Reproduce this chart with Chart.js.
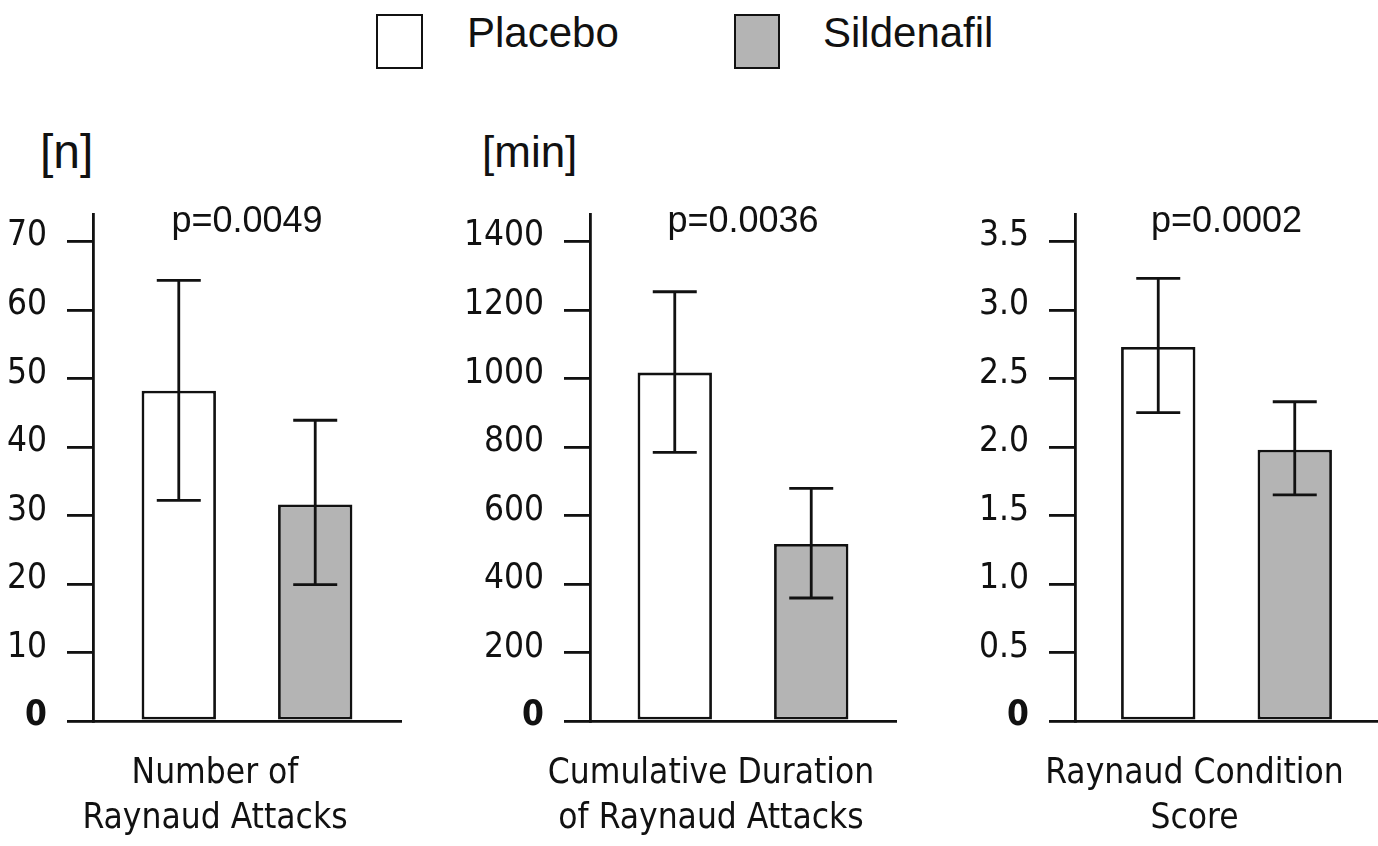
<!DOCTYPE html>
<html>
<head>
<meta charset="utf-8">
<script src="https://cdn.jsdelivr.net/npm/chart.js@4.4.1/dist/chart.umd.min.js"></script>
<style>
  body { margin: 0; background: #fff; width: 1378px; height: 846px; overflow: hidden; position: relative; }
  canvas { position: absolute; top: 190px; }
  .txt { position: absolute; font-family: "Liberation Sans", Arial, sans-serif; color: #111; white-space: nowrap; }
  .legend-text { font-size: 42px; line-height: 42px; top: 12px; }
  .unit { font-size: 44px; line-height: 44px; top: 130px; }
  .box { position: absolute; top: 14px; height: 55px; box-sizing: border-box; border: 2.5px solid #111; }
</style>
</head>
<body>
<div class="box" style="left:376px;width:47px;background:#fff"></div>
<div class="txt legend-text" style="left:467px">Placebo</div>
<div class="box" style="left:734px;width:46px;background:#b4b4b4"></div>
<div class="txt legend-text" style="left:823px">Sildenafil</div>
<div class="txt unit" style="left:40px;font-size:48px">[n]</div>
<div class="txt unit" style="left:482px">[min]</div>

<canvas id="chart1" width="420" height="656" style="left:0px"></canvas>
<canvas id="chart2" width="450" height="656" style="left:450px"></canvas>
<canvas id="chart3" width="403" height="656" style="left:975px"></canvas>

<script>
// groups shown in every panel
const groups = ['Placebo', 'Sildenafil'];

// Number of Raynaud attacks [n]
const attacksMean = [48.2, 31.6];
const attacksLow = [32.2, 19.9];
const attacksHigh = [64.3, 43.9];

// Cumulative duration of attacks [min]
const durationMean = [1017, 517];
const durationLow = [784, 359];
const durationHigh = [1253, 679];

// Raynaud condition score
const scoreMean = [2.73, 1.98];
const scoreLow = [2.25, 1.65];
const scoreHigh = [3.23, 2.33];

const pValues = ['p=0.0049', 'p=0.0036', 'p=0.0002'];
const panelLabels = [
  ['Number of', 'Raynaud Attacks'],
  ['Cumulative Duration', 'of Raynaud Attacks'],
  ['Raynaud Condition', 'Score'],
];
const tickMax = [70, 1400, 3.5];
const tickStep = [10, 200, 0.5];
const axisMax = [74, 1480, 3.7];

const NARROW = '"Liberation Sans Narrow", "DejaVu Sans Condensed", "Arial Narrow", sans-serif';
const REGULAR = '"Liberation Sans", Arial, sans-serif';
const INK = '#111';
const fills = ['#ffffff', '#b4b4b4'];

// Draws the error bars and the p-value above the bars
const errorBarPlugin = {
  id: 'errorBars',
  afterDatasetsDraw(chart, args, opts) {
    const { ctx, scales: { y } } = chart;
    const xs = [];
    ctx.save();
    ctx.strokeStyle = INK;
    ctx.lineWidth = 2.8;
    chart.data.datasets.forEach((ds, i) => {
      const bar = chart.getDatasetMeta(i).data[0];
      const x = bar.x;
      xs.push(x);
      const yLo = y.getPixelForValue(opts.low[i]);
      const yHi = y.getPixelForValue(opts.high[i]);
      ctx.beginPath();
      ctx.moveTo(x, yLo);
      ctx.lineTo(x, yHi);
      ctx.moveTo(x - 22, yLo);
      ctx.lineTo(x + 22, yLo);
      ctx.moveTo(x - 22, yHi);
      ctx.lineTo(x + 22, yHi);
      ctx.stroke();
    });
    // p-value label
    ctx.fillStyle = INK;
    ctx.font = '36px ' + REGULAR;
    ctx.textAlign = 'center';
    ctx.textBaseline = 'alphabetic';
    ctx.fillText(opts.pText, (xs[0] + xs[1]) / 2, chart.chartArea.top + 18);
    ctx.restore();
  },
};

function makePanel(id, idx, means, low, high, axisWidth, padRight, catPct, fmt) {
  const ctx = document.getElementById(id).getContext('2d');
  return new Chart(ctx, {
    type: 'bar',
    data: {
      labels: [panelLabels[idx]],
      datasets: groups.map((g, i) => ({
        label: g,
        data: [means[i]],
        backgroundColor: fills[i],
        borderColor: INK,
        borderWidth: 2.8,
        borderSkipped: false,
        categoryPercentage: catPct,
        barPercentage: 0.545,
      })),
    },
    options: {
      responsive: false,
      animation: false,
      devicePixelRatio: 1,
      layout: { padding: { top: 24, right: padRight, left: 0, bottom: 0 } },
      plugins: {
        legend: { display: false },
        tooltip: { enabled: false },
        errorBars: { low, high, pText: pValues[idx] },
      },
      scales: {
        x: {
          grid: { display: false, drawTicks: false },
          border: { display: true, color: INK, width: 2.8 },
          ticks: {
            color: INK,
            padding: 30,
            labelOffset: -32,
            maxRotation: 0,
            autoSkip: false,
            font: { family: NARROW, size: 35, lineHeight: 1.29 },
          },
          afterFit: (s) => {
            s.height = 125;
            s.paddingLeft = 0;
            s.paddingRight = 0;
          },
        },
        y: {
          min: 0,
          max: axisMax[idx],
          grid: { drawOnChartArea: false, drawTicks: true, tickLength: 26, color: INK, lineWidth: 2.8 },
          border: { display: true, color: INK, width: 2.8 },
          ticks: {
            color: INK,
            padding: 20,
            labelOffset: -5,
            callback: (v) => (v === 0 ? '0' : fmt(v)),
            font: (c) => ({
              family: NARROW,
              size: 35,
              weight: c.tick && c.tick.value === 0 ? 'bold' : 'normal',
            }),
          },
          afterBuildTicks: (s) => {
            const ticks = [];
            for (let k = 0; k * tickStep[idx] <= tickMax[idx] + 1e-9; k++) {
              ticks.push({ value: +(k * tickStep[idx]).toFixed(4) });
            }
            s.ticks = ticks;
          },
          afterFit: (s) => {
            s.width = axisWidth;
            s.paddingTop = 0;
            s.paddingBottom = 0;
          },
        },
      },
    },
    plugins: [errorBarPlugin],
  });
}

makePanel('chart1', 0, attacksMean, attacksLow, attacksHigh, 93, 19, 0.886, (v) => String(v));
makePanel('chart2', 1, durationMean, durationLow, durationHigh, 140, 4, 0.892, (v) => String(v));
makePanel('chart3', 2, scoreMean, scoreLow, scoreHigh, 100, 0, 0.901, (v) => v.toFixed(1));
</script>
</body>
</html>
